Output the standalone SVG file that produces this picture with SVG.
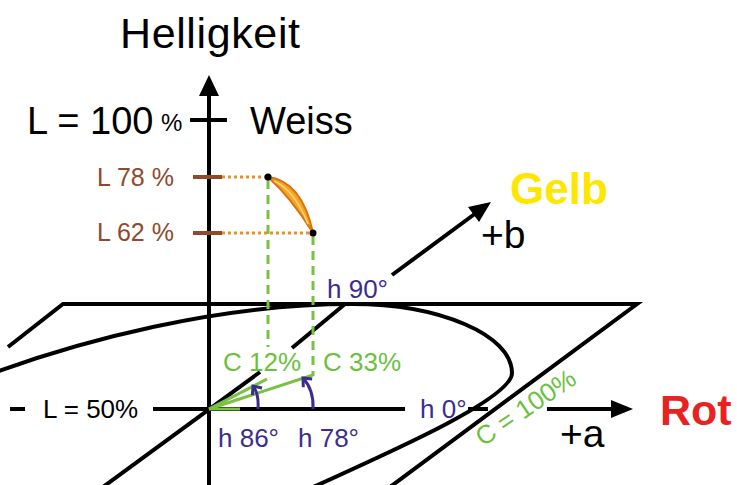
<svg xmlns="http://www.w3.org/2000/svg" width="737" height="485" viewBox="0 0 737 485">
<defs>
<style>
.t{font-family:"Liberation Sans",Arial,sans-serif;}
.k{stroke:#000;stroke-width:4;fill:none;}
.g{stroke:#79c143;stroke-width:3;fill:none;}
.gd{stroke:#79c143;stroke-width:3;fill:none;stroke-dasharray:9,6;}
.od{stroke:#e8902a;stroke-width:3;fill:none;stroke-dasharray:3,3;}
.br{stroke:#8e4a2c;stroke-width:4;}
.pu{stroke:#3b2d8f;stroke-width:3;fill:none;}
.gt{fill:#6cbf3f;font-size:26px;}
.pt{fill:#3b2d8f;font-size:26px;}
.bt{fill:#8e4a2c;font-size:25px;}
</style>
<marker id="chev" markerUnits="userSpaceOnUse" markerWidth="16" markerHeight="16" viewBox="-10 -8 12 16" refX="0" refY="0" orient="auto">
<path d="M-7,-6 L0,0 L-7,6" fill="none" stroke="#3b2d8f" stroke-width="3"/>
</marker>
</defs>
<rect width="737" height="485" fill="#fff"/>

<g id="connectors">
<!-- plane -->
<path class="k" d="M8,347 L63,304 L637,304 L390,487"/>
<!-- ellipse C=100% -->
<path class="k" d="M-20,378 C80,340 220,304 352,304 C440,304 512,335 512,373 C512,398 400,448 300,493"/>
<!-- vertical L axis -->
<line class="k" x1="209" y1="487" x2="209" y2="94"/>
<polygon points="209,75 199,96 219,96" fill="#000"/>
<line class="k" x1="190" y1="120" x2="227" y2="120"/>
<!-- a axis -->
<line class="k" x1="10" y1="409" x2="25" y2="409"/>
<line class="k" x1="153" y1="409" x2="405" y2="409"/>
<line class="k" x1="468" y1="409" x2="488" y2="409"/>
<line class="k" x1="547" y1="409" x2="614" y2="409"/>
<polygon points="633,409 611,400 611,418" fill="#000"/>
<!-- b axis -->
<line class="k" x1="103" y1="487" x2="260" y2="372"/>
<line class="k" x1="292" y1="348" x2="345" y2="304"/>
<line class="k" x1="392" y1="275" x2="476" y2="213"/>
<polygon points="491,202 479,222 468,207" fill="#000"/>
<!-- L ticks and dotted projections -->
<line class="br" x1="193" y1="177" x2="222" y2="177"/>
<line class="br" x1="193" y1="233" x2="222" y2="233"/>
<line class="od" x1="222" y1="177" x2="268" y2="177"/>
<line class="od" x1="222" y1="233" x2="313" y2="233"/>
<!-- green dashed verticals -->
<line class="gd" x1="268" y1="180" x2="268" y2="347"/>
<line class="gd" x1="313" y1="236" x2="313" y2="376"/>
<!-- green chroma lines -->
<line class="g" x1="209" y1="409" x2="267" y2="379"/>
<line class="g" x1="209" y1="409" x2="313" y2="375"/>
<line class="g" x1="209" y1="409" x2="240" y2="409"/>
<!-- hue arcs -->
<path class="pu" d="M258,409 Q259,394 253,386" marker-end="url(#chev)"/>
<path class="pu" d="M313,409 Q314,390 303,378" marker-end="url(#chev)"/>
</g>

<g id="sample">
<path d="M268,177 C292,180 306,200 313,233 C300,212 286,193 268,177 Z" fill="#f5a623" stroke="#d9730d" stroke-width="2"/>
<path d="M274,181 C290,188 300,204 308,224" fill="none" stroke="#ffd27a" stroke-width="1.5"/>
<circle cx="268" cy="177" r="3.5" fill="#000"/>
<circle cx="313" cy="233" r="3.5" fill="#000"/>
</g>

<g id="labels" class="t">
<text x="120" y="48" font-size="43" textLength="180">Helligkeit</text>
<text x="27" y="134" font-size="38">L = 100</text>
<text x="161" y="131" font-size="24">%</text>
<text x="250" y="134" font-size="38">Weiss</text>
<text class="bt" x="97" y="186">L 78 %</text>
<text class="bt" x="97" y="241">L 62 %</text>
<text x="510" y="204" font-size="44" font-weight="bold" fill="#ffe600">Gelb</text>
<text x="481" y="248" font-size="39">+b</text>
<text class="pt" x="327" y="298">h 90°</text>
<text class="gt" x="223" y="371">C 12%</text>
<text class="gt" x="323" y="371">C 33%</text>
<text x="43" y="418" font-size="26">L = 50%</text>
<text class="pt" x="218" y="447">h 86°</text>
<text class="pt" x="298" y="447">h 78°</text>
<text class="pt" x="420" y="418">h 0°</text>
<text class="gt" x="0" y="0" transform="translate(483,447) rotate(-34)">C = 100%</text>
<text x="560" y="447" font-size="39">+a</text>
<text x="660" y="425" font-size="43" font-weight="bold" fill="#e8231f">Rot</text>
</g>
</svg>
